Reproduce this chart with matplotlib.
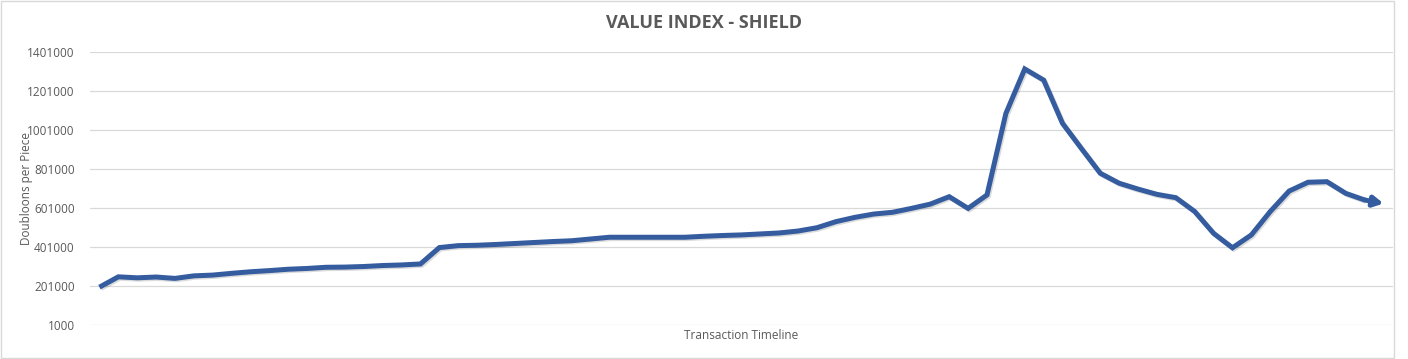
import matplotlib.pyplot as plt
import matplotlib.patheffects as pe
from matplotlib.patches import Rectangle

# doubloons per piece, one value per transaction
values = [
    195000, 248000, 243000, 247000, 240000, 253000, 257000, 266000, 274000, 280000,
    287000, 291000, 297000, 298000, 301000, 306000, 309000, 314000, 398000, 408000,
    410000, 414000, 419000, 424000, 429000, 433000, 442000, 451000, 451000, 451000,
    451000, 451000, 456000, 460000, 463000, 468000, 473000, 483000, 500000, 531000,
    553000, 570000, 579000, 599000, 621000, 659000, 599000, 668000, 1086000, 1314000,
    1257000, 1035000, 906000, 779000, 728000, 698000, 671000, 654000, 583000, 471000,
    397000, 463000, 583000, 688000, 733000, 736000, 676000, 642000, 624000,
]
y_ticks = [1000, 201000, 401000, 601000, 801000, 1001000, 1201000, 1401000]

text_col = "#595959"
line_col = "#345C9F"

fig = plt.figure(figsize=(14.08, 3.59), dpi=100)
plt.rcParams["font.family"] = ["Open Sans", "DejaVu Sans"]

fig.patches.append(Rectangle((0.0007, 0.002), 0.9893, 0.995, transform=fig.transFigure,
                             fill=False, edgecolor="#D9D9D9", linewidth=1))

ax = fig.add_axes([90 / 1408, (359 - 325) / 359, 1303 / 1408, (325 - 52) / 359])

x = list(range(len(values)))
shadow = [pe.SimpleLineShadow(offset=(1, -1), shadow_color="#000000", alpha=0.14), pe.Normal()]
ax.plot(x[:-1], values[:-1], color=line_col, linewidth=3.6, solid_joinstyle="miter",
        solid_capstyle="butt", path_effects=shadow, zorder=3)
ax.annotate("", xy=(x[-1], values[-1]), xytext=(x[-2], values[-2]),
            arrowprops=dict(arrowstyle="-|>,head_length=0.55,head_width=0.3",
                            color=line_col, linewidth=3.6, shrinkA=0, shrinkB=0),
            zorder=3)

ax.set_xlim(-0.5, len(values) - 0.5)
ax.set_ylim(y_ticks[0], y_ticks[-1])
ax.set_yticks(y_ticks)
ax.set_yticklabels([str(v) for v in y_ticks], fontsize=8.5, color=text_col)
ax.set_xticks([])
ax.tick_params(axis="y", length=0, pad=11)
ax.grid(axis="y", color="#D9D9D9", linewidth=0.9)
ax.set_axisbelow(True)
for s in ax.spines.values():
    s.set_visible(False)

ax.set_xlabel("Transaction Timeline", fontsize=8.5, color=text_col, labelpad=3)
ax.set_ylabel("Doubloons per Piece", fontsize=8.5, color=text_col)
ax.yaxis.set_label_coords(-57 / 1303, 0.5)
fig.text(0.5, 1 - 23 / 359, "VALUE INDEX - SHIELD", ha="center", va="center",
         fontsize=13, fontweight="bold", color=text_col)

fig.savefig("out.png", dpi=100)
